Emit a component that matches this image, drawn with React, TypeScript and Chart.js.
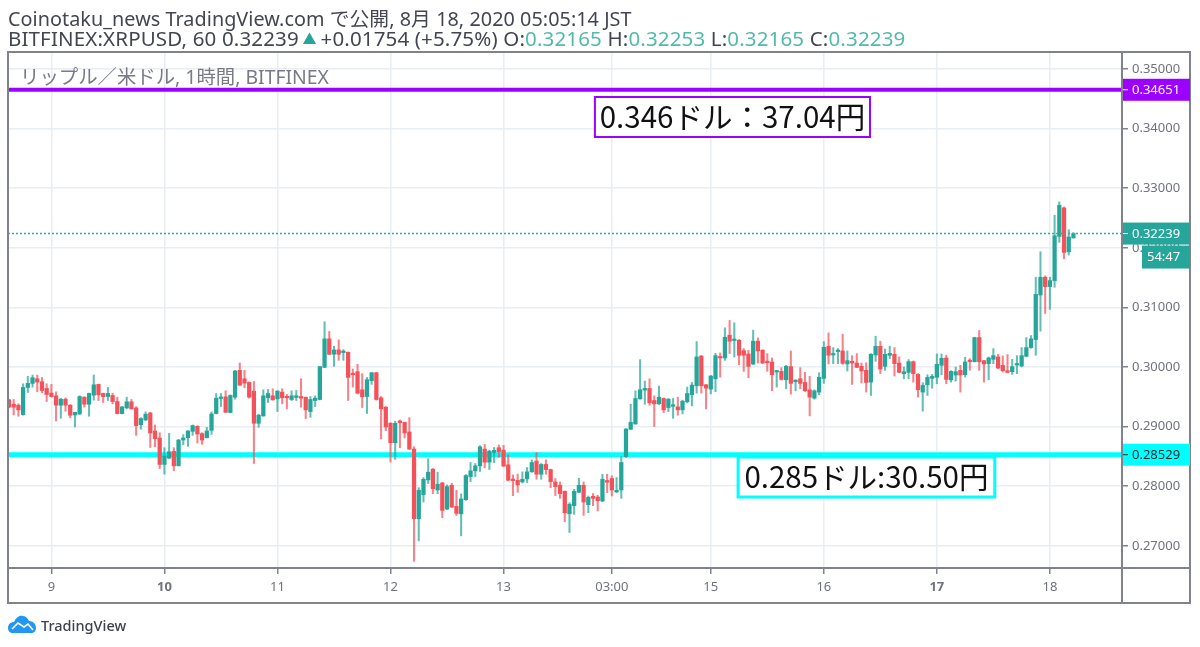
import React, { useEffect, useRef } from "react";
import { Chart, registerables } from "chart.js";

Chart.register(...registerables);

const opens = [
  0.29449,0.29376,0.29359,0.29202,0.29657,0.29725,0.29803,0.29753,0.29640,0.29562,
  0.29517,0.29359,0.29460,0.29359,0.29196,0.29213,0.29494,0.29376,0.29528,0.29708,
  0.29556,0.29505,0.29522,0.29421,0.29219,0.29314,0.29416,0.29314,0.29033,0.29112,
  0.29230,0.28927,0.28809,0.28365,0.28471,0.28584,0.28342,0.28775,0.28814,0.28921,
  0.29005,0.28882,0.28814,0.28938,0.29219,0.29472,0.29500,0.29236,0.29494,0.29944,
  0.29803,0.29741,0.29595,0.29056,0.29179,0.29483,0.29517,0.29466,0.29579,0.29500,
  0.29455,0.29489,0.29505,0.29494,0.29253,0.29438,0.29455,0.29994,0.30472,0.30214,
  0.30287,0.30242,0.30247,0.29893,0.29921,0.29618,0.29505,0.29770,0.29904,0.29483,
  0.29326,0.29056,0.28730,0.29095,0.29073,0.28910,0.28623,0.27454,0.27859,0.28106,
  0.28286,0.27937,0.28055,0.27617,0.28016,0.27662,0.27538,0.27775,0.28162,0.28258,
  0.28342,0.28623,0.28404,0.28567,0.28646,0.28606,0.28359,0.28117,0.28100,0.28072,
  0.28123,0.28241,0.28421,0.28202,0.28365,0.28280,0.28072,0.28016,0.27915,0.27538,
  0.27673,0.27898,0.28016,0.27690,0.27831,0.27819,0.27752,0.28095,0.28129,0.27904,
  0.27937,0.28494,0.28955,0.29045,0.29466,0.29612,0.29640,0.29438,0.29382,0.29472,
  0.29320,0.29342,0.29331,0.29281,0.29416,0.29534,0.29685,0.30185,0.29702,0.29629,
  0.29803,0.30163,0.30152,0.30534,0.30444,0.30450,0.30275,0.30219,0.30051,0.30433,
  0.30281,0.30090,0.30084,0.29916,0.29927,0.29786,0.30006,0.29753,0.29803,0.29741,
  0.29618,0.29477,0.29579,0.29809,0.30348,0.30202,0.30259,0.30270,0.30051,0.30096,
  0.30067,0.30011,0.29944,0.29747,0.30202,0.30348,0.30011,0.30197,0.30214,0.30067,
  0.29888,0.29910,0.30090,0.29876,0.29579,0.29702,0.29809,0.29826,0.30028,0.30152,
  0.29786,0.29865,0.29944,0.29871,0.30112,0.30090,0.30495,0.30107,0.30056,0.30129,
  0.30169,0.30028,0.29938,0.29921,0.30034,0.30017,0.30180,0.30326,0.30461,0.31208,
  0.31506,0.31349,0.31450,0.32192,0.32670,0.31933,0.32165,
];
const highs = [
  0.29460,0.29455,0.29382,0.29719,0.29843,0.29865,0.29865,0.29826,0.29719,0.29708,
  0.29584,0.29477,0.29483,0.29371,0.29241,0.29517,0.29500,0.29562,0.29865,0.29713,
  0.29562,0.29657,0.29562,0.29494,0.29337,0.29494,0.29455,0.29337,0.29151,0.29247,
  0.29236,0.29028,0.28898,0.28646,0.28887,0.28646,0.28786,0.28865,0.28932,0.29028,
  0.29017,0.28898,0.28988,0.29247,0.29556,0.29556,0.29601,0.29534,0.29944,0.30067,
  0.29944,0.29753,0.29758,0.29208,0.29618,0.29623,0.29635,0.29607,0.29635,0.29539,
  0.29601,0.29607,0.29803,0.29494,0.29505,0.29517,0.30011,0.30759,0.30596,0.30348,
  0.30455,0.30292,0.30253,0.29966,0.30045,0.29888,0.29826,0.29910,0.29910,0.29505,
  0.29337,0.29067,0.29090,0.29112,0.29073,0.29151,0.28662,0.27977,0.28145,0.28460,
  0.28297,0.28235,0.28067,0.28022,0.28050,0.27932,0.27870,0.28196,0.28398,0.28381,
  0.28679,0.28702,0.28606,0.28651,0.28691,0.28685,0.28528,0.28190,0.28202,0.28241,
  0.28314,0.28443,0.28567,0.28381,0.28443,0.28286,0.28129,0.28072,0.27921,0.27724,
  0.27949,0.28134,0.28072,0.27836,0.27876,0.27848,0.28202,0.28202,0.28174,0.28145,
  0.28499,0.28966,0.29376,0.29601,0.30124,0.29764,0.29803,0.29517,0.29680,0.29483,
  0.29472,0.29472,0.29494,0.29444,0.29663,0.29741,0.30427,0.30191,0.29708,0.29860,
  0.30230,0.30236,0.30658,0.30781,0.30742,0.30461,0.30309,0.30281,0.30618,0.30489,
  0.30292,0.30225,0.30152,0.29944,0.29989,0.30028,0.30270,0.29786,0.29989,0.29910,
  0.29843,0.29618,0.29904,0.30427,0.30573,0.30326,0.30309,0.30551,0.30270,0.30191,
  0.30225,0.30067,0.30073,0.30225,0.30517,0.30433,0.30303,0.30348,0.30326,0.30169,
  0.30000,0.30124,0.30101,0.29888,0.29736,0.29871,0.29876,0.30219,0.30219,0.30197,
  0.29938,0.30000,0.30028,0.30163,0.30141,0.30500,0.30613,0.30112,0.30169,0.30309,
  0.30214,0.30185,0.30208,0.30129,0.30191,0.30326,0.30495,0.30528,0.31506,0.31933,
  0.31529,0.31506,0.32546,0.32771,0.32686,0.32304,0.32253,
];
const lows = [
  0.29314,0.29196,0.29174,0.29191,0.29573,0.29663,0.29584,0.29567,0.29421,0.29494,
  0.29095,0.29140,0.29258,0.29146,0.28994,0.29202,0.29326,0.29174,0.29444,0.29438,
  0.29404,0.29438,0.29382,0.29213,0.29213,0.29298,0.29292,0.28854,0.28955,0.29101,
  0.28651,0.28662,0.28297,0.28202,0.28466,0.28258,0.28342,0.28696,0.28668,0.28854,
  0.28724,0.28702,0.28809,0.28870,0.29213,0.29337,0.29236,0.29230,0.29460,0.29685,
  0.29652,0.29477,0.28381,0.28988,0.29174,0.29404,0.29444,0.29253,0.29382,0.29298,
  0.29438,0.29438,0.29326,0.29135,0.29157,0.29337,0.29449,0.29989,0.30208,0.30011,
  0.30112,0.30112,0.29438,0.29663,0.29550,0.29320,0.29219,0.29708,0.29444,0.28792,
  0.28932,0.28404,0.28449,0.28646,0.28809,0.28617,0.26740,0.27083,0.27735,0.28044,
  0.27876,0.27876,0.27471,0.27606,0.27640,0.27510,0.27167,0.27763,0.28078,0.28162,
  0.28247,0.28308,0.28280,0.28393,0.28483,0.28331,0.28089,0.27842,0.27898,0.28055,
  0.28061,0.28235,0.28117,0.28117,0.28202,0.27977,0.27842,0.27797,0.27404,0.27224,
  0.27527,0.27893,0.27510,0.27555,0.27673,0.27583,0.27741,0.27893,0.27836,0.27893,
  0.27797,0.28483,0.28955,0.29039,0.29460,0.29376,0.29359,0.29000,0.29371,0.29236,
  0.29253,0.29140,0.29191,0.29213,0.29399,0.29348,0.29562,0.29562,0.29297,0.29550,
  0.29584,0.29831,0.30112,0.30225,0.30169,0.30039,0.29927,0.29820,0.30039,0.30067,
  0.30056,0.29927,0.29601,0.29663,0.29781,0.29635,0.29545,0.29601,0.29635,0.29590,
  0.29179,0.29460,0.29534,0.29725,0.30051,0.30056,0.30056,0.30045,0.29933,0.29708,
  0.29989,0.29730,0.29579,0.29522,0.30096,0.29888,0.29944,0.30141,0.29848,0.29904,
  0.29803,0.29803,0.29747,0.29494,0.29258,0.29522,0.29646,0.29719,0.29871,0.29719,
  0.29747,0.29764,0.29579,0.29831,0.29944,0.30084,0.29944,0.29747,0.29786,0.30056,
  0.29972,0.29916,0.29899,0.29876,0.29888,0.30000,0.30169,0.30315,0.30197,0.30601,
  0.30899,0.30967,0.31338,0.32091,0.31815,0.31877,0.32165,
];
const closes = [
  0.29326,0.29326,0.29281,0.29657,0.29725,0.29820,0.29747,0.29607,0.29539,0.29505,
  0.29359,0.29460,0.29359,0.29191,0.29241,0.29505,0.29376,0.29556,0.29702,0.29534,
  0.29505,0.29556,0.29421,0.29219,0.29331,0.29416,0.29298,0.29017,0.29135,0.29208,
  0.28893,0.28797,0.28365,0.28505,0.28578,0.28342,0.28775,0.28809,0.28927,0.29017,
  0.28876,0.28775,0.28927,0.29213,0.29477,0.29483,0.29241,0.29522,0.29933,0.29697,
  0.29730,0.29494,0.29056,0.29191,0.29517,0.29556,0.29449,0.29595,0.29483,0.29483,
  0.29517,0.29517,0.29477,0.29281,0.29455,0.29477,0.30006,0.30472,0.30214,0.30287,
  0.30214,0.30253,0.29826,0.29871,0.29562,0.29500,0.29786,0.29904,0.29455,0.29297,
  0.28994,0.28730,0.29056,0.29067,0.28893,0.28623,0.27454,0.27932,0.28117,0.28235,
  0.27960,0.28033,0.27595,0.27994,0.27651,0.27544,0.27786,0.28179,0.28258,0.28342,
  0.28662,0.28404,0.28589,0.28601,0.28578,0.28337,0.28100,0.28095,0.28022,0.28117,
  0.28241,0.28398,0.28202,0.28365,0.28280,0.28078,0.27994,0.27876,0.27555,0.27696,
  0.27915,0.28016,0.27735,0.27814,0.27797,0.27758,0.28117,0.28067,0.27937,0.27932,
  0.28398,0.28960,0.29073,0.29472,0.29618,0.29640,0.29399,0.29382,0.29494,0.29281,
  0.29460,0.29354,0.29281,0.29427,0.29556,0.29697,0.30169,0.29685,0.29646,0.29848,
  0.30191,0.30152,0.30500,0.30433,0.30466,0.30197,0.30197,0.30011,0.30433,0.30270,
  0.30067,0.30073,0.29871,0.29938,0.29792,0.30011,0.29725,0.29781,0.29725,0.29601,
  0.29494,0.29601,0.29826,0.30332,0.30197,0.30214,0.30275,0.30062,0.30107,0.30067,
  0.29994,0.29933,0.29741,0.30214,0.30348,0.29966,0.30214,0.30230,0.30056,0.29910,
  0.29921,0.30090,0.29888,0.29618,0.29691,0.29826,0.29843,0.30045,0.30146,0.29792,
  0.29927,0.29921,0.29865,0.30084,0.30090,0.30495,0.30090,0.30051,0.30152,0.30191,
  0.29983,0.29938,0.29910,0.30006,0.30045,0.30191,0.30326,0.30472,0.31220,0.31506,
  0.31349,0.31450,0.32203,0.32714,0.31922,0.32181,0.32239,
];

const timeTickIndex = [9, 33, 57, 81, 105, 128, 149, 173, 197, 221];
const timeTickLabels = ["9", "10", "11", "12", "13", "03:00", "15", "16", "17", "18"];
const boldTimeLabels = ["10", "17"];
const priceTicks = [0.27, 0.28, 0.29, 0.3, 0.31, 0.32, 0.33, 0.34, 0.35];

const resistance = 0.34651;
const support = 0.28529;
const lastPrice = 0.32239;
const countdown = "54:47";
const resistanceNote = "0.346ドル：37.04円";
const supportNote = "0.285ドル:30.50円";

const UP = "#26a69a";
const DOWN = "#f4525a";
const UP_WICK = "rgba(38,166,154,0.72)";
const DOWN_WICK = "rgba(244,82,90,0.72)";
const PURPLE = "#9c00ff";
const CYAN = "#00ffff";
const GRID = "#e8eef4";
const FRAME = "#80838c";
const TEXT = "#70737d";
const FONT = '"Noto Sans", "Noto Sans CJK JP", sans-serif';

const X_MIN = -0.21;
const X_MAX = 236.31;
const Y_MIN = 0.26628;
const Y_MAX = 0.35285;

const overlay = {
  id: "overlay",
  beforeDatasetsDraw(chart: any) {
    const { ctx, chartArea: a } = chart;
    ctx.save();
    ctx.font = `19.4px ${FONT}`;
    ctx.fillStyle = "#787b86";
    ctx.textAlign = "left";
    ctx.textBaseline = "middle";
    ctx.fillText("リップル／米ドル, 1時間, BITFINEX", a.left + 12, 78);
    ctx.restore();
  },
  afterDraw(chart: any) {
    const { ctx, chartArea: a, scales } = chart;
    const xs = scales.x;
    const ys = scales.y;
    ctx.save();
    // frame
    ctx.strokeStyle = FRAME;
    ctx.lineWidth = 2;
    ctx.strokeRect(a.left, a.top, ys.right - a.left, xs.bottom - a.top);
    ctx.beginPath();
    ctx.moveTo(a.right, a.top);
    ctx.lineTo(a.right, xs.bottom);
    ctx.moveTo(a.left, a.bottom);
    ctx.lineTo(ys.right, a.bottom);
    ctx.stroke();

    // price tags
    const tag = (v: number, bg: string, fg: string, label: string) => {
      const y = ys.getPixelForValue(v);
      ctx.fillStyle = bg;
      ctx.fillRect(a.right + 1, y - 11, ys.right - a.right - 1, 22);
      ctx.strokeStyle = fg;
      ctx.lineWidth = 1;
      ctx.beginPath();
      ctx.moveTo(a.right + 1, y);
      ctx.lineTo(a.right + 6, y);
      ctx.stroke();
      ctx.fillStyle = fg;
      ctx.font = `13px ${FONT}`;
      ctx.textAlign = "left";
      ctx.textBaseline = "middle";
      ctx.fillText(label, a.right + 10, y + 0.5);
    };
    tag(resistance, PURPLE, "#ffffff", resistance.toFixed(5));
    tag(support, CYAN, "#1f2430", support.toFixed(5));
    tag(lastPrice, UP, "#ffffff", lastPrice.toFixed(5));

    // countdown
    const ly = ys.getPixelForValue(lastPrice);
    ctx.fillStyle = UP;
    ctx.fillRect(a.right + 20, ly + 12, ys.right - a.right - 20, 23);
    ctx.fillStyle = "#ffffff";
    ctx.font = `13px ${FONT}`;
    ctx.textAlign = "left";
    ctx.fillText(countdown, a.right + 25, ly + 23.5);

    // annotations
    const box = (i0: number, i1: number, v0: number, v1: number, color: string, w: number, text: string) => {
      const l = xs.getPixelForValue(i0);
      const r = xs.getPixelForValue(i1);
      const t = ys.getPixelForValue(v0);
      const b = ys.getPixelForValue(v1);
      ctx.fillStyle = "#ffffff";
      ctx.fillRect(l, t, r - l, b - t);
      ctx.strokeStyle = color;
      ctx.lineWidth = w;
      ctx.strokeRect(l, t, r - l, b - t);
      ctx.fillStyle = "#111111";
      ctx.font = '29.5px "Noto Sans CJK JP", sans-serif';
      ctx.textAlign = "center";
      ctx.textBaseline = "middle";
      ctx.fillText(text, (l + r) / 2, (t + b) / 2);
    };
    box(124.4, 182.8, 0.3453, 0.33859, PURPLE, 2, resistanceNote);
    box(154.8, 209.3, 0.2849, 0.27819, CYAN, 3, supportNote);
    ctx.restore();
  },
};

function hLine(value: number, color: string, width: number, order: number, dash: number[] = []) {
  return {
    type: "line",
    order,
    data: [
      { x: X_MIN, y: value },
      { x: X_MAX, y: value },
    ],
    borderColor: color,
    borderWidth: width,
    borderDash: dash,
    pointRadius: 0,
    fill: false,
  };
}

export default function App() {
  const ref = useRef<HTMLCanvasElement | null>(null);
  useEffect(() => {
    const isUp = (i: number) => closes[i] >= opens[i];
    const chart = new Chart(ref.current as HTMLCanvasElement, {
      data: {
        datasets: [
          hLine(resistance, PURPLE, 4, 5),
          hLine(support, CYAN, 5, 5),
          {
            type: "bar",
            order: 3,
            grouped: false,
            barThickness: 1.4,
            borderWidth: 0,
            data: highs.map((h, i) => ({ x: i, y: [lows[i], h] })),
            backgroundColor: highs.map((_, i) => (isUp(i) ? UP_WICK : DOWN_WICK)),
          },
          {
            type: "bar",
            order: 2,
            grouped: false,
            barThickness: 3.6,
            borderWidth: 0,
            minBarLength: 1.5,
            data: opens.map((o, i) => ({ x: i, y: [o, closes[i]] })),
            backgroundColor: opens.map((_, i) => (isUp(i) ? UP : DOWN)),
          },
          hLine(lastPrice, "#1fb5a6", 1.6, 1, [2, 2]),
        ] as any,
      },
      options: {
        animation: false,
        responsive: false,
        devicePixelRatio: 1,
        layout: { padding: { left: 8, top: 52, right: 10, bottom: 44 } },
        plugins: { legend: { display: false }, title: { display: false }, tooltip: { enabled: false } },
        scales: {
          x: {
            type: "linear",
            min: X_MIN,
            max: X_MAX,
            offset: false,
            border: { display: false },
            grid: { offset: false, color: GRID, lineWidth: 1.5, tickColor: FRAME, tickLength: 6, tickWidth: 1.5 } as any,
            afterBuildTicks: (s: any) => {
              s.ticks = timeTickIndex.map((value) => ({ value }));
            },
            afterFit: (s: any) => {
              s.height = 35;
            },
            ticks: {
              autoSkip: false,
              maxRotation: 0,
              padding: 5,
              color: TEXT,
              font: (c: any) => {
                const label = timeTickLabels[timeTickIndex.indexOf(c.tick?.value)];
                return { family: FONT, size: 13, weight: boldTimeLabels.includes(label) ? "bold" : "normal" };
              },
              callback: (v: any) => timeTickLabels[timeTickIndex.indexOf(v)],
            },
          },
          y: {
            type: "linear",
            position: "right",
            min: Y_MIN,
            max: Y_MAX,
            border: { display: false },
            grid: { color: GRID, lineWidth: 1.5, tickColor: FRAME, tickLength: 6, tickWidth: 1.5 } as any,
            afterBuildTicks: (s: any) => {
              s.ticks = priceTicks.map((value) => ({ value }));
            },
            afterFit: (s: any) => {
              s.width = 68;
            },
            ticks: {
              padding: 4,
              color: TEXT,
              font: { family: FONT, size: 13 },
              callback: (v: any) => Number(v).toFixed(5),
            },
          },
        },
      } as any,
      plugins: [overlay],
    } as any);
    return () => chart.destroy();
  }, []);

  const teal = { color: "#53b9ad" };
  const dark = "#434651";
  return (
    <div style={{ position: "absolute", left: 0, top: 0, width: 1200, height: 647, background: "#fff", overflow: "hidden" }}>
      <canvas ref={ref} width={1200} height={647} style={{ position: "absolute", left: 0, top: 0, display: "block" }} />
      <div style={{ position: "absolute", left: 8, top: 7, whiteSpace: "nowrap", font: `19.8px/24px ${FONT}`, letterSpacing: 0.05, color: dark }}>
        Coinotaku_news TradingView.com で公開, 8月 18, 2020 05:05:14 JST
      </div>
      <div style={{ position: "absolute", left: 8, top: 26, whiteSpace: "nowrap", font: `20.5px/24px ${FONT}`, letterSpacing: 0.15, color: dark }}>
        BITFINEX:XRPUSD, 60 0.32239
        <span style={{ color: "#26a69a", fontSize: 14, verticalAlign: 2 }}> ▲ </span>
        +0.01754 (+5.75%) O:<span style={teal}>0.32165</span> H:<span style={teal}>0.32253</span> L:
        <span style={teal}>0.32165</span> C:<span style={teal}>0.32239</span>
      </div>
      <svg width="30" height="19" viewBox="0 0 30 19" style={{ position: "absolute", left: 7, top: 615 }}>
        <path d="M1 13 C1 9 4 7 7 7 C9 3 12 0 16 1 C19 1 21 4 22 6 C26 6 29 9 29 13 C29 16 27 18 24 18 L6 18 C3 18 1 16 1 13 Z" fill="#2196f3" />
        <path d="M5 14 L11 8 L17 12 L21 9 L26 15" fill="none" stroke="#ffffff" strokeWidth="1.6" />
      </svg>
      <div style={{ position: "absolute", left: 41, top: 614, whiteSpace: "nowrap", font: `500 14.5px/22px ${FONT}`, color: "#3d4150" }}>
        TradingView
      </div>
    </div>
  );
}
